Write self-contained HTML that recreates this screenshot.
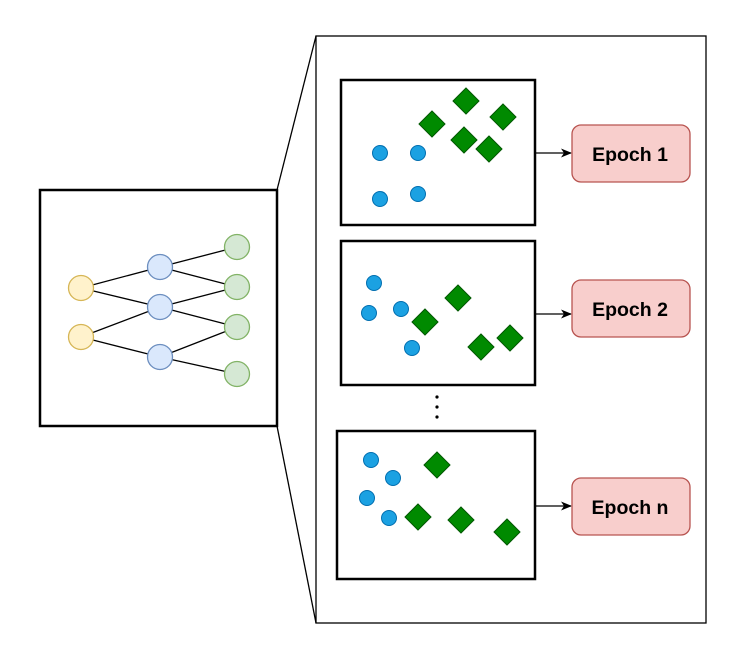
<!DOCTYPE html>
<html><head><meta charset="utf-8"><style>html,body{margin:0;padding:0;background:#fff}svg{display:block}</style></head>
<body>
<svg width="747" height="661" viewBox="0 0 747 661" xmlns="http://www.w3.org/2000/svg">
<defs><marker id="a" markerWidth="12" markerHeight="12" refX="10" refY="6" orient="auto" markerUnits="userSpaceOnUse"><path d="M0,1.5 L11,6 L0,10.5 L3,6 Z" fill="#000"/></marker></defs>
<rect x="316" y="36" width="390" height="587" fill="#fff" stroke="#000" stroke-width="1.3"/>
<line x1="277" y1="190" x2="316" y2="36" stroke="#000" stroke-width="1.3"/>
<line x1="277" y1="426" x2="316" y2="623" stroke="#000" stroke-width="1.3"/>
<rect x="40" y="190" width="237" height="236" fill="#fff" stroke="#000" stroke-width="2.5"/>
<g stroke="#000" stroke-width="1.3">
<line x1="81" y1="288" x2="160" y2="267"/><line x1="81" y1="288" x2="160" y2="307"/>
<line x1="81" y1="337" x2="160" y2="307"/><line x1="81" y1="337" x2="160" y2="357"/>
<line x1="160" y1="267" x2="237" y2="247"/><line x1="160" y1="267" x2="237" y2="287"/>
<line x1="160" y1="307" x2="237" y2="287"/><line x1="160" y1="307" x2="237" y2="327"/>
<line x1="160" y1="357" x2="237" y2="327"/><line x1="160" y1="357" x2="237" y2="374"/>
</g>
<g stroke-width="1.3">
<circle cx="81" cy="288" r="12.5" fill="#fff2cc" stroke="#d6b656"/>
<circle cx="81" cy="337" r="12.5" fill="#fff2cc" stroke="#d6b656"/>
<circle cx="160" cy="267" r="12.5" fill="#dae8fc" stroke="#6c8ebf"/>
<circle cx="160" cy="307" r="12.5" fill="#dae8fc" stroke="#6c8ebf"/>
<circle cx="160" cy="357" r="12.5" fill="#dae8fc" stroke="#6c8ebf"/>
<circle cx="237" cy="247" r="12.5" fill="#d5e8d4" stroke="#82b366"/>
<circle cx="237" cy="287" r="12.5" fill="#d5e8d4" stroke="#82b366"/>
<circle cx="237" cy="327" r="12.5" fill="#d5e8d4" stroke="#82b366"/>
<circle cx="237" cy="374" r="12.5" fill="#d5e8d4" stroke="#82b366"/>
</g>
<g fill="#fff" stroke="#000" stroke-width="2.5">
<rect x="341" y="80" width="194" height="145"/>
<rect x="341" y="241" width="194" height="144"/>
<rect x="337" y="431" width="198" height="148"/>
</g>
<g fill="#1ba1e2" stroke="#006eaf" stroke-width="1">
<circle cx="380" cy="153" r="7.5"/><circle cx="418" cy="153" r="7.5"/><circle cx="380" cy="199" r="7.5"/><circle cx="418" cy="194" r="7.5"/>
<circle cx="374" cy="283" r="7.5"/><circle cx="369" cy="313" r="7.5"/><circle cx="401" cy="309" r="7.5"/><circle cx="412" cy="348" r="7.5"/>
<circle cx="371" cy="460" r="7.5"/><circle cx="393" cy="478" r="7.5"/><circle cx="367" cy="498" r="7.5"/><circle cx="389" cy="518" r="7.5"/>
</g>
<g fill="#008a00" stroke="#005700" stroke-width="1">
<path d="M432,111 l13,13 l-13,13 l-13,-13z"/><path d="M466,88 l13,13 l-13,13 l-13,-13z"/><path d="M503,104 l13,13 l-13,13 l-13,-13z"/><path d="M464,127 l13,13 l-13,13 l-13,-13z"/><path d="M489,136 l13,13 l-13,13 l-13,-13z"/>
<path d="M458,285 l13,13 l-13,13 l-13,-13z"/><path d="M425,309 l13,13 l-13,13 l-13,-13z"/><path d="M481,334 l13,13 l-13,13 l-13,-13z"/><path d="M510,325 l13,13 l-13,13 l-13,-13z"/>
<path d="M437,452 l13,13 l-13,13 l-13,-13z"/><path d="M418,504 l13,13 l-13,13 l-13,-13z"/><path d="M461,507 l13,13 l-13,13 l-13,-13z"/><path d="M507,519 l13,13 l-13,13 l-13,-13z"/>
</g>
<g fill="#000"><circle cx="437" cy="397" r="1.6"/><circle cx="437" cy="407" r="1.6"/><circle cx="437" cy="417" r="1.6"/></g>
<g stroke="#000" stroke-width="1.3" marker-end="url(#a)">
<line x1="535" y1="153" x2="571" y2="153"/><line x1="535" y1="314" x2="571" y2="314"/><line x1="535" y1="506" x2="571" y2="506"/>
</g>
<g fill="#f8cecc" stroke="#b85450" stroke-width="1.3">
<rect x="572" y="125" width="118" height="57" rx="9"/>
<rect x="572" y="280" width="118" height="57" rx="9"/>
<rect x="572" y="478" width="118" height="57" rx="9"/>
</g>
<g font-family="Liberation Sans, sans-serif" font-weight="bold" font-size="19.5" text-anchor="middle" fill="#000">
<text x="630" y="161">Epoch 1</text><text x="630" y="316">Epoch 2</text><text x="630" y="514">Epoch n</text>
</g>
</svg>
</body></html>
